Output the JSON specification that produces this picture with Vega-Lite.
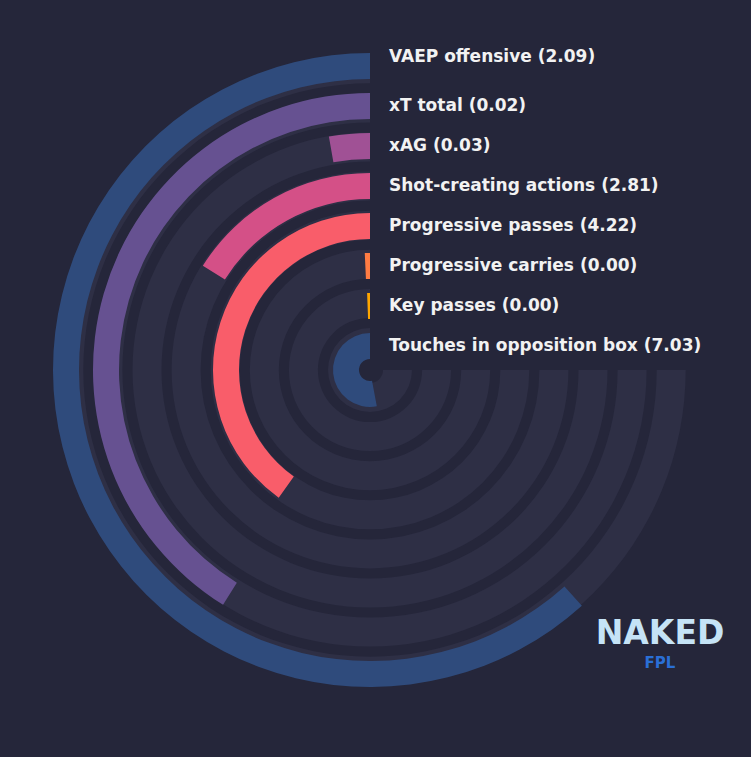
{
  "$schema": "https://vega.github.io/schema/vega-lite/v6.json",
  "width": 740,
  "height": 740,
  "autosize": {"type": "none"},
  "padding": {"left": 0, "top": 0, "right": 11, "bottom": 17},
  "background": "#25263a",
  "config": {"view": {"stroke": null}},
  "title": {
    "text": "NAKED",
    "subtitle": "FPL",
    "orient": "bottom",
    "anchor": "end",
    "frame": "group",
    "align": "center",
    "dx": -80,
    "offset": -122,
    "font": "DejaVu Sans",
    "fontWeight": "bold",
    "fontSize": 33,
    "color": "#c5e3f6",
    "subtitleFont": "DejaVu Sans",
    "subtitleFontWeight": "bold",
    "subtitleFontSize": 15,
    "subtitleColor": "#2a6fd6",
    "subtitlePadding": 5
  },
  "data": {
    "values": [
      {"ring": 7, "metric": "VAEP offensive", "value": 2.09, "pct": 82.2, "label": "VAEP offensive (2.09)"},
      {"ring": 6, "metric": "xT total", "value": 0.02, "pct": 54.8, "label": "xT total (0.02)"},
      {"ring": 5, "metric": "xAG", "value": 0.03, "pct": 3.7, "label": "xAG (0.03)"},
      {"ring": 4, "metric": "Shot-creating actions", "value": 2.81, "pct": 21.5, "label": "Shot-creating actions (2.81)"},
      {"ring": 3, "metric": "Progressive passes", "value": 4.22, "pct": 53.5, "label": "Progressive passes (4.22)"},
      {"ring": 2, "metric": "Progressive carries", "value": 0.0, "pct": 0.95, "label": "Progressive carries (0.00)"},
      {"ring": 1, "metric": "Key passes", "value": 0.0, "pct": 0.8, "label": "Key passes (0.00)"},
      {"ring": 0, "metric": "Touches in opposition box", "value": 7.03, "pct": 70.6, "label": "Touches in opposition box (7.03)"}
    ]
  },
  "layer": [
    {
      "mark": {"type": "arc", "color": "#2e2f45", "radius2Offset": -29},
      "encoding": {
        "theta": {"datum": 0, "type": "quantitative", "stack": null, "scale": {"domain": [0, 100], "range": [6.283185, 1.570796]}},
        "theta2": {"datum": 100},
        "radius": {"field": "ring", "type": "quantitative", "scale": {"domain": [0, 7], "range": [42, 315.7]}},
        "radius2": {"field": "ring"}
      }
    },
    {
      "mark": {"type": "arc", "radius2Offset": -26},
      "encoding": {
        "theta": {"field": "pct", "type": "quantitative", "stack": null},
        "theta2": {"datum": 0},
        "radius": {"field": "ring", "type": "quantitative", "scale": {"domain": [0, 7], "range": [37, 317]}},
        "radius2": {"field": "ring"},
        "color": {
          "field": "metric",
          "type": "nominal",
          "legend": null,
          "scale": {
            "domain": ["VAEP offensive", "xT total", "xAG", "Shot-creating actions", "Progressive passes", "Progressive carries", "Key passes", "Touches in opposition box"],
            "range": ["#2f4b7c", "#665191", "#a05195", "#d45087", "#f95d6a", "#ff7c43", "#ffa600", "#2f4b7c"]
          }
        }
      }
    },
    {
      "transform": [{"filter": "datum.ring < 7"}],
      "mark": {"type": "text", "align": "left", "baseline": "middle", "dx": 19, "dy": 13, "font": "DejaVu Sans", "fontWeight": "bold", "fontSize": 17, "color": "#f2f2f2"},
      "encoding": {
        "theta": {"datum": 0, "type": "quantitative"},
        "radius": {"field": "ring", "type": "quantitative", "scale": {"domain": [0, 7], "range": [37, 317]}},
        "text": {"field": "label"}
      }
    },
    {
      "transform": [{"filter": "datum.ring == 7"}],
      "mark": {"type": "text", "align": "left", "baseline": "middle", "dx": 19, "dy": 4, "font": "DejaVu Sans", "fontWeight": "bold", "fontSize": 17, "color": "#f2f2f2"},
      "encoding": {
        "theta": {"datum": 0, "type": "quantitative"},
        "radius": {"field": "ring", "type": "quantitative", "scale": {"domain": [0, 7], "range": [37, 317]}},
        "text": {"field": "label"}
      }
    }
  ],
  "resolve": {"scale": {"radius": "independent"}}
}
